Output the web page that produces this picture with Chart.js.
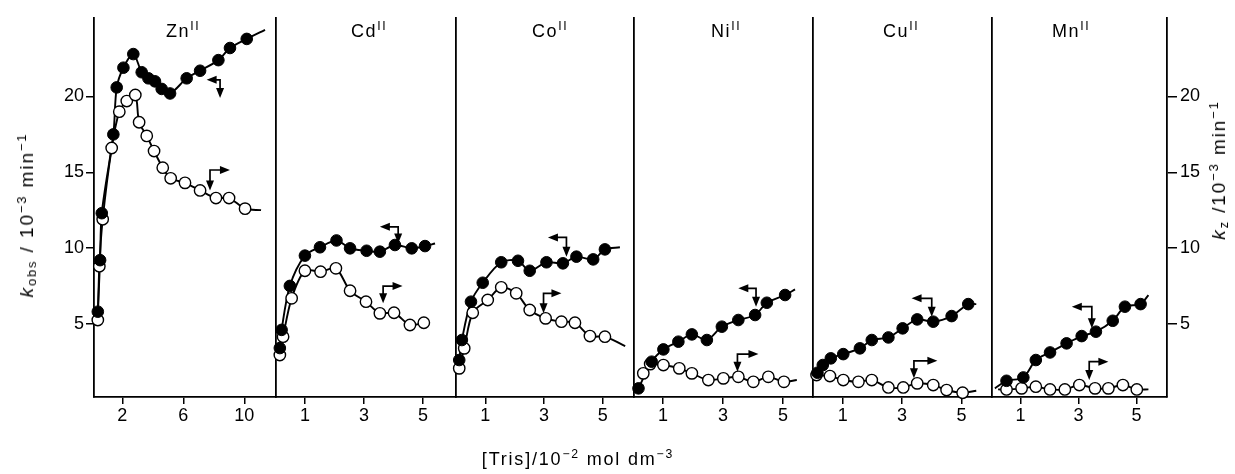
<!DOCTYPE html>
<html><head><meta charset="utf-8">
<script src="https://cdn.jsdelivr.net/npm/chart.js@4"></script>
<style>
html,body{margin:0;padding:0;background:#fff;}
#wrap{position:relative;width:1235px;height:474px;overflow:hidden;font-family:"Liberation Sans",Arial,sans-serif;color:#000;}
canvas{position:absolute;left:0;top:0;}
.t{position:absolute;white-space:nowrap;z-index:5;line-height:18px;}
.pt{font-size:18px;letter-spacing:1.6px;}
.ax{font-size:18px;letter-spacing:1.8px;transform:translate(-50%,-50%);}
.rot{font-size:19px;letter-spacing:1.9px;transform:translate(-50%,-50%) rotate(-90deg);}
sup{font-size:0.68em;vertical-align:0.55em;line-height:0;}
sub{font-size:0.68em;vertical-align:-0.25em;line-height:0;}
</style></head>
<body>
<div id="wrap">
<canvas id="c0" width="1235" height="474"></canvas>
<canvas id="c1" width="1235" height="474"></canvas>
<canvas id="c2" width="1235" height="474"></canvas>
<canvas id="c3" width="1235" height="474"></canvas>
<canvas id="c4" width="1235" height="474"></canvas>
<canvas id="c5" width="1235" height="474"></canvas>
</div>
<script>
// ---------- data ----------
const panelNames = ['Zn','Cd','Co','Ni','Cu','Mn'];
const panelCharge = 'II';
const xTicksZn = [2, 6, 10];
const xTicksOther = [1, 3, 5];
const yTicks = [5, 10, 15, 20];

const znFilled = [[0.39,5.8],[0.54,9.2],[0.65,12.3],[1.41,17.5],[1.63,20.6],[2.07,21.9],[2.72,22.8],[3.27,21.6],[3.71,21.2],[4.14,21.0],[4.58,20.5],[5.13,20.2],[6.22,21.2],[7.1,21.7],[8.3,22.4],[9.06,23.2],[10.16,23.8]];
const znOpen = [[0.39,5.25],[0.49,8.8],[0.71,11.9],[1.3,16.6],[1.8,19.0],[2.29,19.7],[2.85,20.1],[3.1,18.3],[3.6,17.4],[4.08,16.4],[4.65,15.3],[5.17,14.6],[6.11,14.3],[7.1,13.8],[8.14,13.3],[9.0,13.3],[10.05,12.6]];
const cdFilled = [[0.15,3.4],[0.21,4.6],[0.49,7.5],[1.0,9.5],[1.51,10.05],[2.07,10.5],[2.53,9.98],[3.09,9.82],[3.54,9.76],[4.05,10.2],[4.62,9.98],[5.07,10.13]];
const cdOpen = [[0.15,2.94],[0.26,4.15],[0.55,6.68],[1.0,8.5],[1.53,8.44],[2.05,8.66],[2.53,7.18],[3.07,6.46],[3.54,5.69],[4.02,5.73],[4.56,4.92],[5.03,5.07]];
const coFilled = [[0.11,2.61],[0.2,3.93],[0.51,6.46],[0.91,7.71],[1.54,9.06],[2.11,9.16],[2.51,8.5],[3.08,9.06],[3.64,8.99],[4.1,9.43],[4.67,9.25],[5.07,9.91]];
const coOpen = [[0.11,2.06],[0.28,3.38],[0.57,5.73],[1.08,6.57],[1.54,7.41],[2.05,7.01],[2.51,5.91],[3.05,5.36],[3.59,5.14],[4.05,5.07],[4.56,4.19],[5.07,4.15]];
const niFilled = [[0.18,0.74],[0.62,2.5],[1.01,3.31],[1.51,3.82],[1.96,4.3],[2.46,3.93],[2.96,4.81],[3.51,5.25],[4.07,5.58],[4.46,6.39],[5.07,6.9]];
const niOpen = [[0.34,1.73],[0.57,2.34],[1.01,2.28],[1.54,2.06],[1.96,1.73],[2.51,1.29],[3.01,1.4],[3.51,1.5],[4.01,1.17],[4.51,1.5],[5.03,1.17]];
const cuFilled = [[0.15,1.77],[0.33,2.28],[0.6,2.72],[1.02,3.0],[1.58,3.38],[1.98,3.93],[2.54,4.1],[3.02,4.7],[3.51,5.29],[4.05,5.14],[4.67,5.51],[5.23,6.3]];
const cuOpen = [[0.12,1.62],[0.57,1.55],[1.02,1.29],[1.53,1.17],[1.98,1.29],[2.54,0.8],[3.04,0.8],[3.51,1.07],[4.05,0.96],[4.5,0.63],[5.04,0.45]];
const mnFilled = [[0.52,1.24],[1.1,1.46],[1.53,2.61],[2.02,3.11],[2.59,3.71],[3.11,4.19],[3.6,4.48],[4.18,5.2],[4.6,6.13],[5.14,6.3]];
const mnOpen = [[0.52,0.67],[1.04,0.74],[1.53,0.85],[2.02,0.67],[2.53,0.67],[3.03,0.96],[3.57,0.74],[4.03,0.74],[4.53,0.96],[5.01,0.67]];

// fitted-line ends beyond the data points: [head or null, tail or null]
const znFilledEnds = [null, [11.36,24.4]];
const znOpenEnds = [null, [11.1,12.5]];
const cdFilledEnds = [null, [5.41,10.3]];
const cdOpenEnds = [null, null];
const coFilledEnds = [null, [5.58,10.05]];
const coOpenEnds = [null, [5.76,3.53]];
const niFilledEnds = [null, [5.4,7.27]];
const niOpenEnds = [null, [5.46,1.29]];
const cuFilledEnds = [null, [5.5,6.3]];
const cuOpenEnds = [null, [5.5,0.58]];
const mnFilledEnds = [[0.12,0.74], [5.41,6.9]];
const mnOpenEnds = [[0.23,0.67], [5.41,0.67]];

// axis-indicator arrows: [cornerX, cornerY, horizontalTipX, verticalTipY]
const znArrows = [[8.41,21.1,7.53,19.9],[7.75,15.15,9.06,13.8]];
const cdArrows = [[4.16,11.4,3.54,10.3],[3.65,7.49,4.31,6.35]];
const coArrows = [[3.76,10.7,3.13,9.43],[2.98,7.01,3.59,5.69]];
const niArrows = [[4.1,7.34,3.51,6.13],[3.48,3.0,4.18,1.84]];
const cuArrows = [[4.0,6.68,3.32,5.47],[3.4,2.56,4.19,1.4]];
const mnArrows = [[3.46,6.13,2.77,4.7],[3.37,2.5,4.03,1.29]];

// ---------- layout ----------
const W = 1235, H = 474;
const panelLeft = [94, 276, 456, 634, 813, 992];
const panelRight = [276, 456, 634, 813, 992, 1167];
const xMin = [0.14, 0.02, 0, 0.03, 0, 0.02];
const xMax = [12.08, 6.12, 6.06, 6.0, 6.03, 6.05];
const Y_MIN = 0.17, Y_MAX = 25.18;
const AXW = 40, XAH = 40, TOP = 18, BOTTOM_AXIS = 397;
const titleLeft = [166, 351, 532, 711, 883, 1052];

const filledSets = [znFilled, cdFilled, coFilled, niFilled, cuFilled, mnFilled];
const openSets = [znOpen, cdOpen, coOpen, niOpen, cuOpen, mnOpen];
const filledEnds = [znFilledEnds, cdFilledEnds, coFilledEnds, niFilledEnds, cuFilledEnds, mnFilledEnds];
const openEnds = [znOpenEnds, cdOpenEnds, coOpenEnds, niOpenEnds, cuOpenEnds, mnOpenEnds];
const arrowSets = [znArrows, cdArrows, coArrows, niArrows, cuArrows, mnArrows];

const FONT = {family: '"Liberation Sans", Arial, sans-serif', size: 18};
const toXY = a => a.map(p => ({x: p[0], y: p[1]}));
const withEnds = (pts, ends) => {
  const arr = pts.slice();
  if (ends[0]) arr.unshift(ends[0]);
  if (ends[1]) arr.push(ends[1]);
  return toXY(arr);
};

const arrowPlugin = {
  id: 'arrows',
  afterDatasetsDraw(chart, args, opts) {
    const ctx = chart.ctx, xs = chart.scales.x, ys = chart.scales.y;
    (opts.list || []).forEach(a => {
      const cx = xs.getPixelForValue(a[0]), cy = ys.getPixelForValue(a[1]);
      const hx = xs.getPixelForValue(a[2]), vy = ys.getPixelForValue(a[3]);
      ctx.save();
      ctx.strokeStyle = '#000'; ctx.fillStyle = '#000'; ctx.lineWidth = 1.7;
      const dir = Math.sign(hx - cx);
      ctx.beginPath(); ctx.moveTo(hx - dir * 6, cy); ctx.lineTo(cx, cy); ctx.lineTo(cx, vy - 6); ctx.stroke();
      ctx.beginPath(); ctx.moveTo(hx, cy); ctx.lineTo(hx - dir * 10, cy - 4); ctx.lineTo(hx - dir * 10, cy + 4); ctx.closePath(); ctx.fill();
      ctx.beginPath(); ctx.moveTo(cx, vy); ctx.lineTo(cx - 4, vy - 10); ctx.lineTo(cx + 4, vy - 10); ctx.closePath(); ctx.fill();
      ctx.restore();
    });
  }
};

function makeChart(i) {
  const first = i === 0, last = i === panelNames.length - 1;
  const xt = first ? xTicksZn : xTicksOther;
  const scales = {
    x: {
      type: 'linear', min: xMin[i], max: xMax[i],
      afterBuildTicks: s => { s.ticks = xt.map(v => ({value: v})); },
      afterFit: s => { s.height = XAH; },
      grid: {display: true, drawOnChartArea: false, drawTicks: true, tickLength: 7, color: '#000', lineWidth: 1.5},
      border: {display: true, color: '#000', width: 1.8},
      ticks: {font: FONT, color: '#000', padding: 1, maxRotation: 0, autoSkip: false}
    },
    y: {
      type: 'linear', position: 'left', min: Y_MIN, max: Y_MAX,
      afterBuildTicks: s => { s.ticks = yTicks.map(v => ({value: v})); },
      afterFit: s => { s.width = first ? AXW : 0; },
      grid: {display: first, drawOnChartArea: false, drawTicks: true, tickLength: 8, color: '#000', lineWidth: 1.5},
      border: {display: true, color: '#000', width: 1.8},
      ticks: {display: first, font: FONT, color: '#000', padding: 2}
    }
  };
  if (last) {
    scales.y2 = {
      type: 'linear', position: 'right', min: Y_MIN, max: Y_MAX,
      afterBuildTicks: s => { s.ticks = yTicks.map(v => ({value: v})); },
      afterFit: s => { s.width = AXW; },
      grid: {display: true, drawOnChartArea: false, drawTicks: true, tickLength: 10, color: '#000', lineWidth: 1.5},
      border: {display: true, color: '#000', width: 1.8},
      ticks: {display: true, font: FONT, color: '#000', padding: 3}
    };
  }
  const padL = first ? panelLeft[i] - AXW : panelLeft[i];
  const padR = last ? W - panelRight[i] - AXW : W - panelRight[i];
  const lineCommon = {showLine: true, pointRadius: 0, borderColor: '#000', borderWidth: 1.9, tension: 0.3, clip: false, fill: false};
  const datasets = [
    {data: toXY(filledSets[i]), showLine: false, pointRadius: 5.8, pointBackgroundColor: '#000', pointBorderColor: '#000', pointBorderWidth: 1, clip: false},
    {data: toXY(openSets[i]), showLine: false, pointRadius: 5.7, pointBackgroundColor: '#fff', pointBorderColor: '#000', pointBorderWidth: 1.4, clip: false},
    Object.assign({data: withEnds(filledSets[i], filledEnds[i])}, lineCommon),
    Object.assign({data: withEnds(openSets[i], openEnds[i])}, lineCommon)
  ];
  new Chart(document.getElementById('c' + i), {
    type: 'scatter',
    data: {datasets},
    options: {
      responsive: false, animation: false, events: [],
      layout: {padding: {left: padL, right: padR, top: TOP, bottom: H - BOTTOM_AXIS - XAH}},
      scales,
      plugins: {legend: {display: false}, tooltip: {enabled: false}, arrows: {list: arrowSets[i]}}
    },
    plugins: [arrowPlugin]
  });
}

const wrap = document.getElementById('wrap');
panelNames.forEach((n, i) => {
  makeChart(i);
  const d = document.createElement('div');
  d.className = 't pt';
  d.style.left = titleLeft[i] + 'px';
  d.style.top = '22px';
  d.innerHTML = n + '<sup>' + panelCharge + '</sup>';
  wrap.appendChild(d);
});

function addText(html, cls, x, y) {
  const d = document.createElement('div');
  d.className = 't ' + cls;
  d.style.left = x + 'px'; d.style.top = y + 'px';
  d.innerHTML = html;
  wrap.appendChild(d);
}
addText('[Tris]/10<sup>\u22122</sup> mol dm<sup>\u22123</sup>', 'ax', 578, 459);
addText('<i>k</i><sub>obs</sub> / 10<sup>\u22123</sup> min<sup>\u22121</sup>', 'rot', 27, 215);
addText('<i>k</i><sub>z</sub> /10<sup>\u22123</sup> min<sup>\u22121</sup>', 'rot', 1219, 170);
</script>
</body></html>
